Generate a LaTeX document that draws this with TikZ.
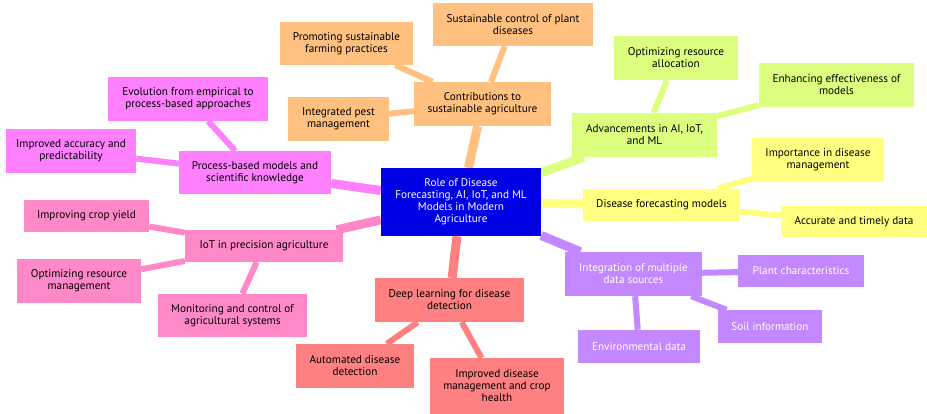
\documentclass[tikz,border=0pt]{standalone}
\usepackage{fontspec}
\setmainfont{PT Sans}
\usetikzlibrary{backgrounds}
\definecolor{rootblue}{RGB}{0,0,228}
\definecolor{peach}{RGB}{255,192,128}
\definecolor{orchid}{RGB}{255,128,255}
\definecolor{rose}{RGB}{255,136,200}
\definecolor{salmon}{RGB}{255,128,128}
\definecolor{lilac}{RGB}{195,136,255}
\definecolor{lemon}{RGB}{255,255,128}
\definecolor{lime}{RGB}{220,255,128}
\begin{document}
\begin{tikzpicture}[x=1pt,y=-1pt,
  box/.style={rectangle,align=center,inner sep=0pt,font=\fontsize{11.2}{12}\selectfont},
  trunk/.style={line width=9pt},
  twig/.style={line width=6pt}]
\useasboundingbox (0,0) rectangle (927,413);
% root
\node[box,fill=rootblue,text=white,minimum width=160,minimum height=68] (root) at (461,202)
  {Role of Disease\\Forecasting, AI, IoT, and ML\\Models in Modern\\Agriculture};
% sustainable agriculture
\node[box,fill=peach,minimum width=137,minimum height=44] (contrib) at (482.5,104) {Contributions to\\sustainable agriculture};
\node[box,fill=peach,minimum width=160,minimum height=43] (control) at (513,24.5) {Sustainable control of plant\\diseases};
\node[box,fill=peach,minimum width=133,minimum height=43] (farming) at (346.5,43.5) {Promoting sustainable\\farming practices};
\node[box,fill=peach,minimum width=101,minimum height=44] (pest) at (338.5,119) {Integrated pest\\management};
% process-based models
\node[box,fill=orchid,minimum width=152,minimum height=43] (process) at (255,172.5) {Process-based models and\\scientific knowledge};
\node[box,fill=orchid,minimum width=160,minimum height=44] (evolution) at (188,99) {Evolution from empirical to\\process-based approaches};
\node[box,fill=orchid,minimum width=130,minimum height=44] (accuracy) at (71,151) {Improved accuracy and\\predictability};
% iot
\node[box,fill=rose,minimum width=158,minimum height=32] (iot) at (264,246) {IoT in precision agriculture};
\node[box,fill=rose,minimum width=125,minimum height=32] (yield) at (86.5,216) {Improving crop yield};
\node[box,fill=rose,minimum width=124,minimum height=44] (resmgmt) at (79,281) {Optimizing resource\\management};
\node[box,fill=rose,minimum width=149,minimum height=43] (monitor) at (232.5,315.5) {Monitoring and control of\\agricultural systems};
% deep learning
\node[box,fill=salmon,minimum width=149,minimum height=44] (deep) at (449.5,300) {Deep learning for disease\\detection};
\node[box,fill=salmon,minimum width=118,minimum height=44] (automated) at (355,366) {Automated disease\\detection};
\node[box,fill=salmon,minimum width=134,minimum height=56] (health) at (497,386) {Improved disease\\management and crop\\health};
% data sources
\node[box,fill=lilac,text=white,minimum width=137,minimum height=44] (sources) at (633.5,274) {Integration of multiple\\data sources};
\node[box,fill=lilac,text=white,minimum width=126,minimum height=32] (plant) at (801,271) {Plant characteristics};
\node[box,fill=lilac,text=white,minimum width=104,minimum height=33] (soil) at (770,326.5) {Soil information};
\node[box,fill=lilac,text=white,minimum width=122,minimum height=33] (environ) at (639,346.5) {Environmental data};
% forecasting
\node[box,fill=lemon,minimum width=157,minimum height=32] (forecast) at (661.5,205) {Disease forecasting models};
\node[box,fill=lemon,minimum width=132,minimum height=43] (importance) at (818,159.5) {Importance in disease\\management};
\node[box,fill=lemon,minimum width=146,minimum height=31] (timely) at (854,221.5) {Accurate and timely data};
% advancements
\node[box,fill=lime,minimum width=145,minimum height=44] (advance) at (644.5,135) {Advancements in AI, IoT,\\and ML};
\node[box,fill=lime,minimum width=124,minimum height=44] (allocation) at (676,58) {Optimizing resource\\allocation};
\node[box,fill=lime,minimum width=155,minimum height=44] (effective) at (836.5,85) {Enhancing effectiveness of\\models};

\begin{pgfonlayer}{background}
\foreach \b/\c in {contrib/peach,process/orchid,iot/rose,deep/salmon,sources/lilac,forecast/lemon,advance/lime}
  \draw[trunk,draw=\c] (root) -- (\b);
\foreach \a/\b/\c in {contrib/control/peach,contrib/farming/peach,contrib/pest/peach,
    process/evolution/orchid,process/accuracy/orchid,
    iot/yield/rose,iot/resmgmt/rose,iot/monitor/rose,
    deep/automated/salmon,deep/health/salmon,
    sources/plant/lilac,sources/soil/lilac,sources/environ/lilac,
    forecast/importance/lemon,forecast/timely/lemon,
    advance/allocation/lime,advance/effective/lime}
  \draw[twig,draw=\c] (\a) -- (\b);
\end{pgfonlayer}
\end{tikzpicture}
\end{document}
